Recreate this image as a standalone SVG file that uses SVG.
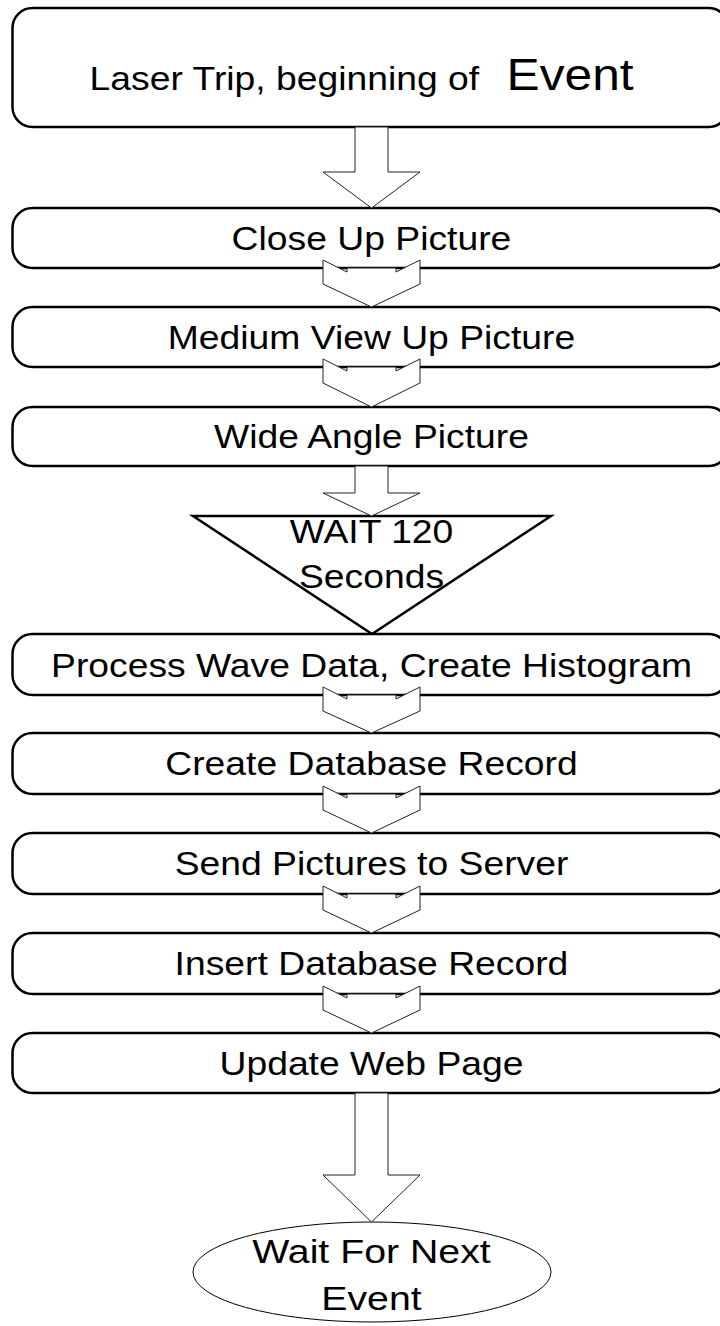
<svg xmlns="http://www.w3.org/2000/svg" width="720" height="1326" viewBox="0 0 720 1326">
<style>
.box{fill:#fff;stroke:#000;stroke-width:2.5}
.arr{fill:#fff;stroke:#222;stroke-width:1}
.tri{fill:#fff;stroke:#000;stroke-width:2.5}
.ell{fill:#fff;stroke:#000;stroke-width:1}
.t{font-family:"Liberation Sans",Arial,sans-serif;font-size:33px;fill:#000;text-anchor:middle}
.s{text-anchor:start}
</style>
<rect width="720" height="1326" fill="#fff"/>
<g id="n1"><rect class="box" x="12.5" y="8" width="716" height="119" rx="20"/>
<text class="t s" y="90" transform="matrix(1.13 0 0 1 -48.3 0)"><tspan x="122">Laser Trip, beginning of</tspan><tspan x="491" font-size="44">Event</tspan></text></g>
<g id="n2"><rect class="box" x="12.5" y="208" width="716" height="60" rx="20"/>
<text class="t" x="371.5" y="250" transform="matrix(1.13 0 0 1 -48.3 0)">Close Up Picture</text></g>
<g id="n3"><rect class="box" x="12.5" y="307" width="716" height="60" rx="20"/>
<text class="t" x="371.5" y="349" transform="matrix(1.13 0 0 1 -48.3 0)">Medium View Up Picture</text></g>
<g id="n4"><rect class="box" x="12.5" y="407" width="716" height="59" rx="20"/>
<text class="t" x="371.5" y="448" transform="matrix(1.13 0 0 1 -48.3 0)">Wide Angle Picture</text></g>
<g id="n5"><polygon class="tri" points="193,516 551,516 372,634"/>
<text class="t" x="371.5" y="543" transform="matrix(1.13 0 0 1 -48.3 0)">WAIT 120</text>
<text class="t" x="371.5" y="588" transform="matrix(1.13 0 0 1 -48.3 0)">Seconds</text></g>
<g id="n6"><rect class="box" x="12.5" y="634" width="716" height="61" rx="20"/>
<text class="t" x="371.5" y="677" transform="matrix(1.13 0 0 1 -48.3 0)">Process Wave Data, Create Histogram</text></g>
<g id="n7"><rect class="box" x="12.5" y="733" width="716" height="61" rx="20"/>
<text class="t" x="371.5" y="775" transform="matrix(1.13 0 0 1 -48.3 0)">Create Database Record</text></g>
<g id="n8"><rect class="box" x="12.5" y="833" width="716" height="61" rx="20"/>
<text class="t" x="371.5" y="875" transform="matrix(1.13 0 0 1 -48.3 0)">Send Pictures to Server</text></g>
<g id="n9"><rect class="box" x="12.5" y="933" width="716" height="61" rx="20"/>
<text class="t" x="371.5" y="975" transform="matrix(1.13 0 0 1 -48.3 0)">Insert Database Record</text></g>
<g id="n10"><rect class="box" x="12.5" y="1033" width="716" height="60" rx="20"/>
<text class="t" x="371.5" y="1075" transform="matrix(1.13 0 0 1 -48.3 0)">Update Web Page</text></g>
<g id="n11"><ellipse class="ell" cx="372" cy="1272" rx="179" ry="50"/>
<text class="t" x="371.5" y="1263" font-size="31" transform="matrix(1.19 0 0 1 -70.6 0)">Wait For Next</text>
<text class="t" x="371.5" y="1310" font-size="31" transform="matrix(1.19 0 0 1 -70.6 0)">Event</text></g>
<g id="connectors">
<polygon class="arr" points="355,127 388,127 388,172 420,172 371.5,208 323,172 355,172"/>
<polygon class="arr" points="347,268 347,272 323,260 323,284 371.5,307 420,284 420,260 396,272 396,268"/>
<polygon class="arr" points="347,367 347,371 323,359 323,383 371.5,407 420,383 420,359 396,371 396,367"/>
<polygon class="arr" points="355,466 388,466 388,493 420,493 371.5,516 323,493 355,493"/>
<polygon class="arr" points="347,695 347,699 323,687 323,711 371.5,733 420,711 420,687 396,699 396,695"/>
<polygon class="arr" points="347,794 347,798 323,786 323,810 371.5,833 420,810 420,786 396,798 396,794"/>
<polygon class="arr" points="347,894 347,898 323,886 323,910 371.5,933 420,910 420,886 396,898 396,894"/>
<polygon class="arr" points="347,994 347,998 323,986 323,1010 371.5,1033 420,1010 420,986 396,998 396,994"/>
<polygon class="arr" points="355,1093 388,1093 388,1175 420,1175 371.5,1222 323,1175 355,1175"/>
</g>
</svg>
